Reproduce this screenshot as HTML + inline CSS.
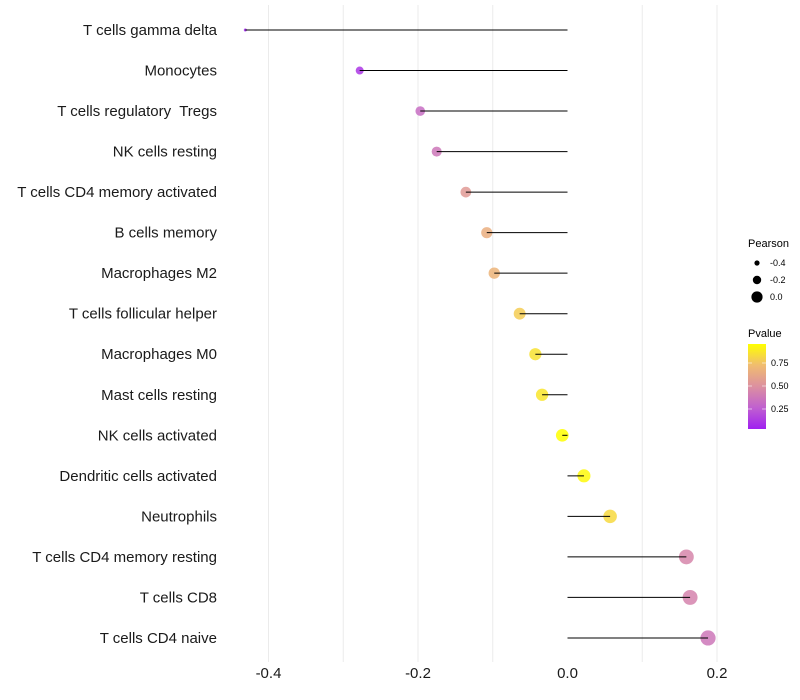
<!DOCTYPE html>
<html><head><meta charset="utf-8"><style>
body{margin:0;background:#fff;}
svg{display:block;font-family:"Liberation Sans",sans-serif;}
text{white-space:pre;}
</style></head><body>
<svg id="chart" width="800" height="700">
<defs><linearGradient id="pg" x1="0" y1="1" x2="0" y2="0">
<stop offset="0" stop-color="#A020F0"/><stop offset="0.25" stop-color="#C060D0"/><stop offset="0.5" stop-color="#DC90A0"/><stop offset="0.75" stop-color="#F0BC70"/><stop offset="1" stop-color="#FFFF00"/></linearGradient></defs>
<g id="grid"></g>
<g id="marks"></g>
<g id="ylab"></g>
<g id="xlab"></g>
<g>
<text x="748" y="247" font-size="11" fill="#000">Pearson</text>
<circle cx="757" cy="263" r="2.6" fill="#000"/>
<text x="770" y="266" font-size="9">-0.4</text>
<circle cx="757" cy="280" r="4.2" fill="#000"/>
<text x="770" y="283" font-size="9">-0.2</text>
<circle cx="757" cy="297" r="5.6" fill="#000"/>
<text x="770" y="300" font-size="9">0.0</text>
</g>
<g>
<text x="748" y="337" font-size="11">Pvalue</text>
<rect x="748" y="344" width="18" height="85" fill="url(#pg)"/>
<g stroke="#fff" stroke-width="0.8" opacity="0.7"><line x1="748" x2="752" y1="363" y2="363"/><line x1="762" x2="766" y1="363" y2="363"/><line x1="748" x2="752" y1="386" y2="386"/><line x1="762" x2="766" y1="386" y2="386"/><line x1="748" x2="752" y1="409" y2="409"/><line x1="762" x2="766" y1="409" y2="409"/></g>
<text x="771" y="366" font-size="9">0.75</text>
<text x="771" y="389" font-size="9">0.50</text>
<text x="771" y="412" font-size="9">0.25</text>
</g>
</svg>
<script>
const categories=["T cells gamma delta","Monocytes","T cells regulatory  Tregs","NK cells resting","T cells CD4 memory activated","B cells memory","Macrophages M2","T cells follicular helper","Macrophages M0","Mast cells resting","NK cells activated","Dendritic cells activated","Neutrophils","T cells CD4 memory resting","T cells CD8","T cells CD4 naive"];
const pearson=[-0.431,-0.278,-0.197,-0.175,-0.136,-0.108,-0.098,-0.064,-0.043,-0.034,-0.007,0.022,0.057,0.159,0.164,0.188];
const pvalue=[0.05,0.12,0.33,0.38,0.55,0.65,0.68,0.78,0.85,0.86,0.97,0.93,0.82,0.45,0.44,0.38];
const xTicks=[-0.4,-0.2,0.0,0.2];
const xTickLabels=["-0.4","-0.2","0.0","0.2"];
const gridVals=[-0.4,-0.3,-0.2,-0.1,0.1,0.2];
const NS="http://www.w3.org/2000/svg";
const x=v=>567.5+v*747.5;
const y=i=>30+i*40.53;
const rad=p=>Math.sqrt(Math.max(2.25,40.9+89.7*p));
const stops=[[0.04,[160,32,240]],[0.27,[192,96,208]],[0.5,[220,144,160]],[0.72,[240,188,112]],[0.95,[255,255,0]]];
function col(p){if(p<=stops[0][0])return `rgb(${stops[0][1]})`;for(let k=1;k<stops.length;k++){if(p<=stops[k][0]){const t=(p-stops[k-1][0])/(stops[k][0]-stops[k-1][0]);const a=stops[k-1][1],b=stops[k][1];return `rgb(${a.map((c,j)=>Math.round(c+(b[j]-c)*t)).join(',')})`;}}return 'rgb(255,255,0)';}
function mk(t,a,parent){const e=document.createElementNS(NS,t);for(const k in a)e.setAttribute(k,a[k]);parent.appendChild(e);return e;}
const grid=document.getElementById('grid'),marks=document.getElementById('marks'),ylab=document.getElementById('ylab'),xlab=document.getElementById('xlab');
gridVals.forEach(v=>{const l=mk('line',{x1:x(v),x2:x(v),y1:5,y2:662,stroke:'#ebebeb','stroke-width':1},grid);

});
categories.forEach((c,i)=>{
const d=mk('circle',{cx:x(pearson[i]),cy:y(i),r:rad(pearson[i]),fill:col(pvalue[i]),opacity:0.85},marks);


const l=mk('line',{x1:x(0),x2:x(pearson[i]),y1:y(i),y2:y(i),stroke:'#000','stroke-width':1},marks);


const t=mk('text',{x:217,y:y(i)+5,'text-anchor':'end','font-size':15,fill:'#1a1a1a'},ylab);t.textContent=c;


});
xTicks.forEach((v,i)=>{const t=mk('text',{x:x(v),y:678,'text-anchor':'middle','font-size':15,fill:'#1a1a1a'},xlab);t.textContent=xTickLabels[i];

});
</script>
</body></html>
